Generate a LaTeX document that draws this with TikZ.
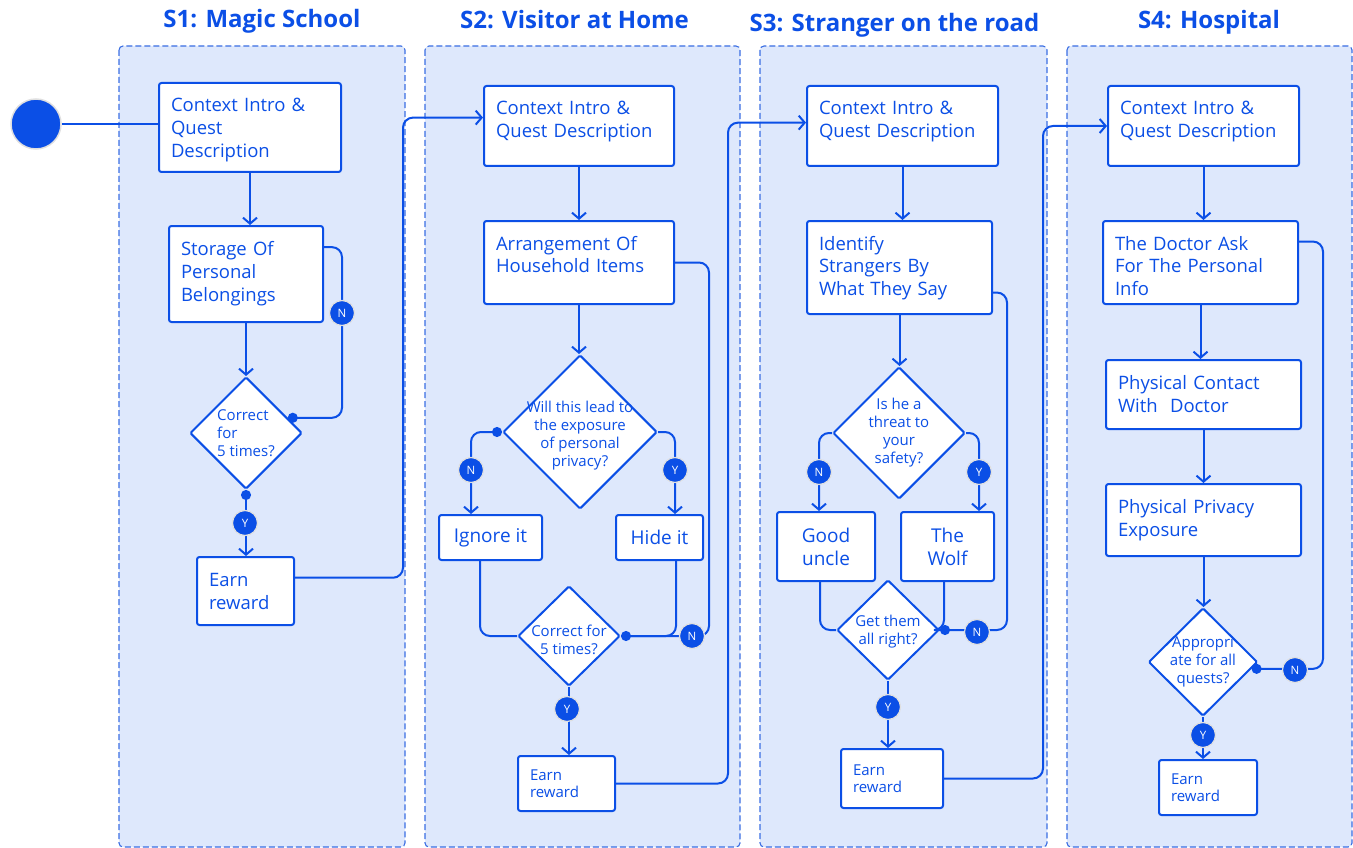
\documentclass[tikz,border=0pt]{standalone}
\usepackage{fontspec}
\setmainfont{Open Sans}
\usetikzlibrary{shapes.geometric,arrows.meta}
\definecolor{qblue}{HTML}{0B4FE6}
\definecolor{lanefill}{HTML}{DEE8FC}
\definecolor{laneline}{HTML}{3A6EE3}
\tikzset{
  lane/.style={draw=laneline, fill=lanefill, dash pattern=on 6pt off 3pt, line width=1.1pt, rounded corners=4pt},
  lanetitle/.style={text=qblue, anchor=base, font=\fontsize{24}{28}\selectfont\bfseries},
  qbox/.style={draw=qblue, fill=white, line width=2pt, rounded corners=2.5pt, text=qblue, anchor=north west,
    align=left, inner xsep=12pt, inner ysep=0pt, text height=29pt, font=\fontsize{18.5}{23}\selectfont},
  qboxs/.style={qbox, text height=24pt, font=\fontsize{15}{17}\selectfont},
  cbox/.style={draw=qblue, fill=white, line width=2pt, rounded corners=2.5pt, text=qblue, align=center,
    inner sep=0pt, font=\fontsize{19}{23}\selectfont},
  dia/.style={diamond, draw=qblue, fill=white, line width=2pt, inner sep=0pt, rounded corners=1.5pt},
  dtext/.style={text=qblue, align=center, font=\fontsize{15}{18}\selectfont},
  badge/.style={circle, fill=qblue, draw=white!88!black, line width=1.2pt, minimum size=25pt, inner sep=0pt,
    text=white, font=\fontsize{11.5}{11.5}\selectfont},
  conn/.style={draw=qblue, line width=2pt, rounded corners=10pt},
  arr/.style={conn, -{Straight Barb[length=6pt,width=14pt]}},
  dotline/.style={conn, {Circle[length=10pt]}-},
  dotarr/.style={conn, {Circle[length=10pt]}-{Straight Barb[length=6pt,width=14pt]}},
}
\begin{document}
\begin{tikzpicture}[x=1pt, y=-1pt]
  \useasboundingbox (0,0) rectangle (1353,848);
  % lanes
  \draw[lane] (119,46) rectangle (405,847);
  \draw[lane] (425,46) rectangle (740,847);
  \draw[lane] (760,46) rectangle (1047,847);
  \draw[lane] (1067,46) rectangle (1352,847);
  \node[lanetitle] (t1) at (262,28) {S1: Magic School};
  \node[lanetitle] (t2) at (574.5,29) {S2: Visitor at Home};
  \node[lanetitle] (t3) at (894.5,32) {S3: Stranger on the road};
  \node[lanetitle] (t4) at (1209,29) {S4: Hospital};

  % S1
  \node[circle, fill=qblue, draw=white!88!black, line width=1.5pt, minimum size=50pt] (start) at (36,124) {};
  \node[qbox, text width=158pt, text depth=60pt] (a1) at (158,82) {Context Intro \&\\Quest\\Description};
  \node[qbox, text width=130pt, text depth=67pt] (b1) at (168,225) {Storage Of\\Personal\\Belongings};
  \node[dia, minimum width=112pt, minimum height=112pt] (c1) at (246,433) {};
  \node[dtext, align=left] (c1t) at (c1) {Correct\\for\\5 times?};
  \node[qbox, text width=73pt, text depth=39pt] (e1) at (196,556) {Earn\\reward};

  % S2
  \node[qbox, text width=166pt, text depth=51pt] (a2) at (483,85) {Context Intro \&\\Quest Description};
  \node[qbox, text width=166pt, text depth=54pt] (b2) at (483,220) {Arrangement Of\\Household Items};
  \node[dia, minimum width=154pt, minimum height=154pt] (c2) at (580,432) {};
  \node[dtext] (c2t) at ([yshift=-4pt]c2.center) {Will this lead to\\the exposure\\of personal\\privacy?};
  \node[cbox, minimum width=103pt, minimum height=45pt] (ig) at (490.5,537.5) {Ignore it};
  \node[cbox, minimum width=87pt, minimum height=45pt] (hd) at (659.5,537.5) {Hide it};
  \node[dia, minimum width=102pt, minimum height=100pt] (d2) at (569,636) {};
  \node[dtext] (d2t) at ([yshift=-4pt]d2.center) {Correct for\\5 times?};
  \node[qboxs, text width=73pt, text depth=31pt] (e2) at (517,755) {Earn\\reward};

  % S3
  \node[qbox, text width=167pt, text depth=51pt] (a3) at (806,85) {Context Intro \&\\Quest Description};
  \node[qbox, text width=161pt, text depth=64pt] (b3) at (806,220) {Identify\\Strangers By\\What They Say};
  \node[dia, minimum width=132pt, minimum height=132pt] (c3) at (899,433) {};
  \node[dtext] (c3t) at (c3) {Is he a\\threat to\\your\\safety?};
  \node[cbox, minimum width=98pt, minimum height=69pt] (gu) at (826,546.5) {Good\\uncle};
  \node[cbox, minimum width=93pt, minimum height=69pt] (wf) at (947.5,546.5) {The\\Wolf};
  \node[dia, minimum width=102pt, minimum height=100pt] (d3) at (888,630) {};
  \node[dtext] (d3t) at ([yshift=-2pt]d3.center) {Get them\\all right?};
  \node[qboxs, text width=78pt, text depth=33pt, text height=26pt] (e3) at (840,748) {Earn\\reward};

  % S4
  \node[qbox, text width=167pt, text depth=51pt] (a4) at (1107,85) {Context Intro \&\\Quest Description};
  \node[qbox, text width=171pt, text depth=54pt] (b4) at (1102,220) {The Doctor Ask\\For The Personal\\Info};
  \node[qbox, text width=171pt, text depth=40pt] (c4) at (1105,359) {Physical Contact\\With~~Doctor};
  \node[qbox, text width=171pt, text depth=43pt] (d4) at (1105,483) {Physical Privacy\\Exposure};
  \node[dia, minimum width=109pt, minimum height=108pt] (e4) at (1203,662) {};
  \node[dtext] (e4t) at (e4) {Appropri\\ate for all\\quests?};
  \node[qboxs, text width=74pt, text depth=31pt] (f4) at (1158,759) {Earn\\reward};

  % connectors
  \draw[conn] (start.east) -- (start.east -| a1.west);
  \draw[arr] (a1.south) -- (a1.south |- b1.north);
  \draw[arr] (b1.south) -- (b1.south |- c1.north);
  \draw[dotline] (c1.20) -| (342,330) |- (b1.19);
  \draw[dotarr] (c1.south) -- (c1.south |- e1.north);
  \draw[arr] (e1.15) -| (403,300) |- (a2.175);

  \draw[arr] (a2.south) -- (b2.north);
  \draw[arr] (b2.south) -- (b2.south |- c2.north);
  \draw[dotarr] (c2.west) -| ([xshift=-19.5pt]ig.north);
  \draw[arr] (c2.east) -| ([xshift=15.5pt]hd.north);
  \draw[conn] ([xshift=-10.5pt]ig.south) |- (d2.west);
  \draw[conn] ([xshift=16.5pt]hd.south) |- (d2.east);
  \draw[dotline] (d2.east) -| (709,400) |- (b2.east);
  \draw[arr] (d2.south) -- (d2.south |- e2.north);
  \draw[arr] (e2.east) -| (728,400) |- (a3.178);

  \draw[arr] (a3.south) -- (a3.south |- b3.north);
  \draw[arr] (b3.south) -- (b3.south |- c3.north);
  \draw[arr] (c3.west) -| ([xshift=-7pt]gu.north);
  \draw[arr] (c3.east) -| ([xshift=31.5pt]wf.north);
  \draw[conn] ([xshift=-6pt]gu.south) |- (d3.west);
  \draw[conn] ([xshift=-3.5pt]wf.south) |- (d3.east);
  \draw[dotline] (d3.east) -| (1007,400) |- (b3.-15);
  \draw[arr] (d3.south) -- (d3.south |- e3.north);
  \draw[arr] (e3.east) -| (1043,400) |- (a4.west);

  \draw[arr] (a4.south) -- (a4.south |- b4.north);
  \draw[arr] (b4.south) -- (b4.south |- c4.north);
  \draw[arr] (c4.south) -- (d4.north);
  \draw[arr] (d4.south) -- (d4.south |- e4.north);
  \draw[dotline] (e4.-8) -| (1323,400) |- (b4.12);
  \draw[arr] (e4.south) -- (e4.south |- f4.north);

  % badges
  \node[badge] (n1) at (342,313) {N};
  \node[badge] (y1) at (245,523) {Y};
  \node[badge] (n2a) at (471,470) {N};
  \node[badge] (y2a) at (675,470) {Y};
  \node[badge] (n2b) at (692,636) {N};
  \node[badge] (y2b) at (567,709) {Y};
  \node[badge] (n3a) at (819,472) {N};
  \node[badge] (y3a) at (979,472) {Y};
  \node[badge] (n3b) at (977,632) {N};
  \node[badge] (y3b) at (888,707) {Y};
  \node[badge] (n4) at (1295,670) {N};
  \node[badge] (y4) at (1203,735) {Y};
\end{tikzpicture}
\end{document}
